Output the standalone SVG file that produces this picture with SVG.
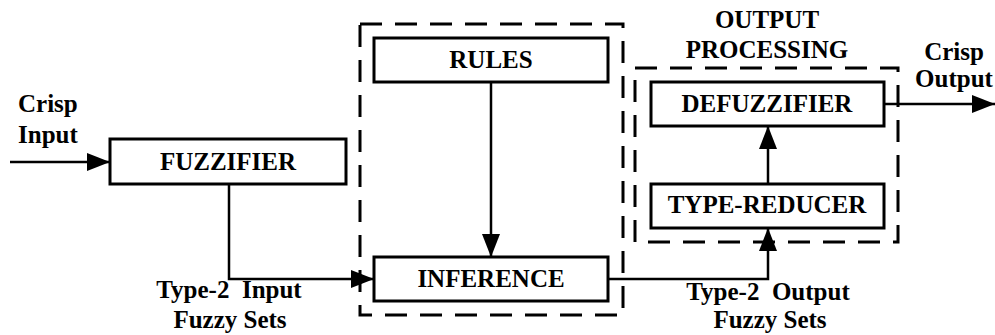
<svg xmlns="http://www.w3.org/2000/svg" width="995" height="335" viewBox="0 0 995 335">
<defs>
<marker id="ah" markerUnits="userSpaceOnUse" markerWidth="26" markerHeight="20" refX="23" refY="9" orient="auto">
<path d="M0,0 L23,9 L0,18 Z" fill="#000"/>
</marker>
<style>
.box{fill:#fff;stroke:#000;stroke-width:3}
.grp{fill:none;stroke:#000;stroke-width:3;stroke-dasharray:22 13}
.con{fill:none;stroke:#000;stroke-width:2.5;marker-end:url(#ah)}
text{font-family:"Liberation Serif","Times New Roman",serif;font-weight:bold;font-size:25px;fill:#000;white-space:pre}
.c{text-anchor:middle}
</style>
</defs>
<rect width="995" height="335" fill="#fff"/>
<g id="group-inference"><rect class="grp" x="360" y="24" width="263" height="291"/></g>
<g id="group-output"><rect class="grp" x="635" y="68" width="263" height="174"/>
<text class="c" x="767" y="28">OUTPUT</text>
<text class="c" x="767" y="58">PROCESSING</text></g>
<g id="connectors">
<path class="con" d="M10,162 H110"/>
<path class="con" d="M229,184 V279 H374"/>
<path class="con" d="M491,82 V257"/>
<path class="con" d="M608,279 H768 V228"/>
<path class="con" d="M768,184 V126"/>
<path class="con" d="M884,104 H995"/>
</g>
<g id="fuzzifier"><rect class="box" x="110" y="139" width="236" height="45"/><text class="c" x="228" y="170">FUZZIFIER</text></g>
<g id="rules"><rect class="box" x="374" y="38" width="234" height="44"/><text class="c" x="491" y="68">RULES</text></g>
<g id="inference"><rect class="box" x="374" y="257" width="234" height="44"/><text class="c" x="491" y="287">INFERENCE</text></g>
<g id="defuzzifier"><rect class="box" x="651" y="82" width="233" height="44"/><text class="c" x="767" y="112">DEFUZZIFIER</text></g>
<g id="type-reducer"><rect class="box" x="651" y="184" width="233" height="44"/><text class="c" x="767" y="213">TYPE-REDUCER</text></g>
<g id="labels">
<text x="18" y="112">Crisp</text>
<text x="18" y="143">Input</text>
<text class="c" x="954" y="60">Crisp</text>
<text class="c" x="954" y="87">Output</text>
<text class="c" x="229" y="298">Type-2  Input</text>
<text class="c" x="230" y="328">Fuzzy Sets</text>
<text class="c" x="768" y="300">Type-2  Output</text>
<text class="c" x="770" y="328">Fuzzy Sets</text>
</g>
</svg>
